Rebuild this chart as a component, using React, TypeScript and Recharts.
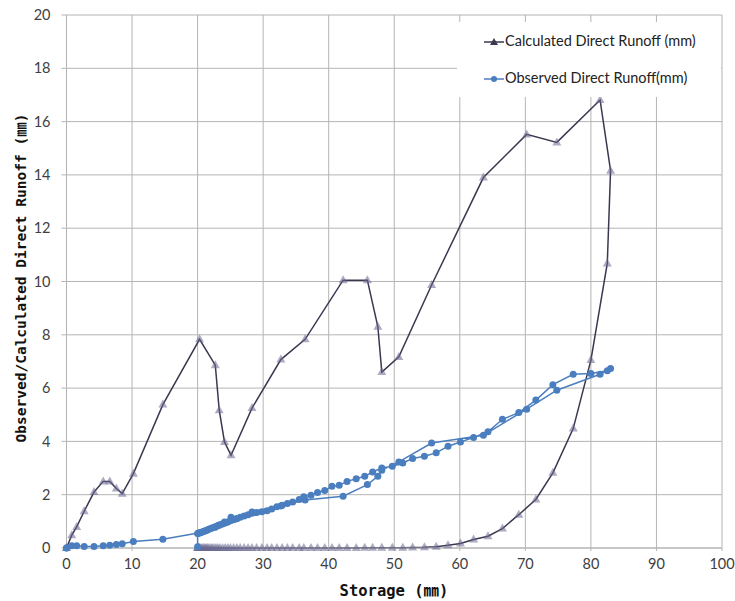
import { LineChart, Line, XAxis, YAxis, CartesianGrid, Legend } from "recharts";

// storage (mm) while storage rises, then while it drains back to ~20
const risingStorage = [
  0, 0, 0.8, 1.55, 2.7, 4.2, 5.6, 6.6, 7.6, 8.5, 10.2, 14.7, 20.3, 22.7, 23.3, 24.1,
  25.1, 28.3, 32.7, 36.4, 42.2, 45.9, 47.5, 48.1, 50.7, 55.7, 63.6, 70.2, 74.8, 81.4, 83.0,
];
const calcRising = [
  0, 0, 0.48, 0.79, 1.38, 2.1, 2.5, 2.5, 2.23, 2.04, 2.79, 5.38, 7.83, 6.86, 5.17, 3.98,
  3.48, 5.25, 7.07, 7.83, 10.05, 10.05, 8.3, 6.6, 7.17, 9.87, 13.9, 15.52, 15.22, 16.81, 14.16,
];
const obsRising = [
  0, 0, 0.08, 0.08, 0.06, 0.06, 0.08, 0.1, 0.13, 0.16, 0.24, 0.33, 0.57, 0.78, 0.85, 0.98,
  1.15, 1.35, 1.58, 1.8, 1.94, 2.38, 2.69, 2.92, 3.23, 3.94, 4.23, 5.21, 5.92, 6.52, 6.74,
];

const recessionStorage = [
  82.5, 80.0, 77.3, 74.2, 71.6, 69.0, 66.5, 64.3, 62.1, 60.1, 58.2, 56.4, 54.6, 52.8, 51.3,
  49.7, 48.1, 46.7, 45.5, 44.2, 42.8, 41.6, 40.5, 39.4, 38.3, 37.3, 36.2, 35.5, 34.5, 33.7,
  32.9, 32.1, 31.3, 30.6, 29.8, 29.0, 28.3, 27.7, 27.1, 26.5, 26.0, 25.5, 25.0, 24.6, 24.2,
  23.8, 23.4, 23.1, 22.8, 22.5, 22.2, 22.0, 21.7, 21.5, 21.3, 21.1, 20.9, 20.7, 20.5, 20.3,
  20.1, 20.0, 20.0,
];
const calcRecession = [
  10.68, 7.05, 4.48, 2.82, 1.82, 1.25, 0.73, 0.44, 0.32, 0.17, 0.1, 0.05, 0.03, 0.02, 0.01,
  0.01, 0.01, 0.01, 0.01, 0, 0, 0, 0, 0, 0, 0, 0, 0, 0, 0,
  0, 0, 0, 0, 0, 0, 0, 0, 0, 0, 0, 0, 0, 0, 0,
  0, 0, 0, 0, 0, 0, 0, 0, 0, 0, 0, 0, 0, 0, 0,
  0, 0, 0,
];
const obsRecession = [
  6.65, 6.55, 6.52, 6.13, 5.55, 5.08, 4.83, 4.36, 4.15, 3.98, 3.82, 3.57, 3.44, 3.36, 3.19,
  3.07, 3.0, 2.85, 2.69, 2.6, 2.5, 2.35, 2.32, 2.16, 2.08, 1.98, 1.92, 1.82, 1.73, 1.67,
  1.6, 1.55, 1.46, 1.4, 1.36, 1.33, 1.3, 1.25, 1.2, 1.15, 1.1, 1.06, 1.02, 0.98, 0.94,
  0.9, 0.87, 0.84, 0.81, 0.78, 0.75, 0.73, 0.7, 0.68, 0.66, 0.64, 0.62, 0.6, 0.58, 0.56,
  0.55, 0.54, 0.05,
];

const xTicks = [0, 10, 20, 30, 40, 50, 60, 70, 80, 90, 100];
const yTicks = [0, 2, 4, 6, 8, 10, 12, 14, 16, 18, 20];

const CALC_NAME = "Calculated Direct Runoff (mm)";
const OBS_NAME = "Observed Direct Runoff(mm)";

const storage = [...risingStorage, ...recessionStorage];
const calcData = storage.map((s, i) => ({ s, v: [...calcRising, ...calcRecession][i] }));
const obsData = storage.map((s, i) => ({ s, v: [...obsRising, ...obsRecession][i] }));

const CALC_LINE = "#3a3850";
const CALC_MARK = "#6a6790";
const OBS = "#4a7ebf";
const GRID = "#b4b4b4";
const TICK_FONT = "Lato, 'Noto Sans', sans-serif";
const TITLE_FONT = "'DejaVu Sans Mono', 'Noto Sans CJK KR', monospace";

const triangle = (props: any) => {
  const { cx, cy, index } = props;
  if (cx == null || cy == null) return <g key={`t${index}`} />;
  return (
    <path
      key={`t${index}`}
      d={`M${cx},${cy - 5} L${cx + 4.5},${cy + 3} L${cx - 4.5},${cy + 3} Z`}
      fill={CALC_MARK}
      fillOpacity={0.55}
    />
  );
};

const LegendBox = () => (
  <div
    style={{
      background: "#fff",
      width: "100%",
      height: "100%",
      fontFamily: TICK_FONT,
      fontSize: 14.5,
      color: "#222",
      position: "relative",
    }}
  >
    <svg width={24} height={12} style={{ position: "absolute", left: 25, top: 14 }}>
      <line x1={2} y1={6} x2={22} y2={6} stroke={CALC_LINE} strokeWidth={1.5} />
      <path d="M12,2 L16,9 L8,9 Z" fill={CALC_LINE} />
    </svg>
    <span style={{ position: "absolute", left: 48, top: 10, whiteSpace: "nowrap" }}>{CALC_NAME}</span>
    <svg width={24} height={12} style={{ position: "absolute", left: 25, top: 51 }}>
      <line x1={2} y1={6} x2={22} y2={6} stroke={OBS} strokeWidth={1.5} />
      <circle cx={12} cy={6} r={3} fill={OBS} />
    </svg>
    <span style={{ position: "absolute", left: 48, top: 47, whiteSpace: "nowrap" }}>{OBS_NAME}</span>
  </div>
);

export default function App() {
  return (
    <div style={{ position: "absolute", left: 0, top: 0, background: "#fff" }}>
      <LineChart width={735} height={601} margin={{ top: 15, right: 13, left: 0, bottom: 0 }}>
        <CartesianGrid stroke={GRID} strokeWidth={1} />
        <XAxis
          type="number"
          dataKey="s"
          domain={[0, 100]}
          ticks={xTicks}
          allowDuplicatedCategory={false}
          height={53}
          axisLine={{ stroke: GRID }}
          tickLine={{ stroke: GRID }}
          tickSize={3}
          tickMargin={8}
          tick={{ fontSize: 14.5, fontFamily: TICK_FONT, fill: "#404040" }}
        />
        <YAxis
          type="number"
          dataKey="v"
          domain={[0, 20]}
          ticks={yTicks}
          width={66.5}
          axisLine={{ stroke: GRID }}
          tickLine={{ stroke: GRID }}
          tickSize={5}
          tickMargin={11}
          tick={{ fontSize: 14.5, fontFamily: TICK_FONT, fill: "#404040" }}
        />
        <Legend
          layout="horizontal"
          verticalAlign="middle"
          align="center"
          wrapperStyle={{ left: 457, top: 22, width: 264, height: 75 }}
          content={() => <LegendBox />}
        />
        <Line
          data={calcData}
          dataKey="v"
          name={CALC_NAME}
          stroke={CALC_LINE}
          strokeWidth={1.5}
          dot={triangle}
          activeDot={false}
          isAnimationActive={false}
        />
        <Line
          data={obsData}
          dataKey="v"
          name={OBS_NAME}
          stroke={OBS}
          strokeWidth={1.5}
          dot={{ r: 3.5, fill: OBS, stroke: OBS, strokeWidth: 0 }}
          activeDot={false}
          isAnimationActive={false}
        />
        <text
          x={394}
          y={596}
          textAnchor="middle"
          fontFamily={TITLE_FONT}
          fontWeight="bold"
          fontSize={15.5}
          fill="#111"
        >
          Storage (㎜)
        </text>
        <text
          x={26}
          y={278}
          transform="rotate(-90, 26, 278)"
          textAnchor="middle"
          fontFamily={TITLE_FONT}
          fontWeight="bold"
          fontSize={14.5}
          fill="#111"
        >
          Observed/Calculated Direct Runoff (㎜)
        </text>
      </LineChart>
    </div>
  );
}
